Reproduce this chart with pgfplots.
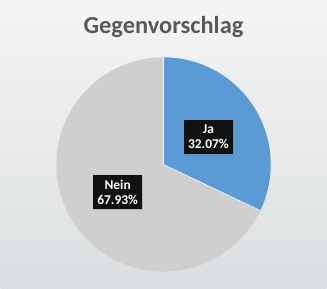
\documentclass[border=0pt]{standalone}
\usepackage{pgfplots}
\pgfplotsset{compat=1.18}
\usepackage{pgfplotstable}
\usepackage{fontspec}
\setmainfont{Carlito}
\usetikzlibrary{shadows}
\definecolor{jablue}{HTML}{5B9BD5}
\definecolor{neingray}{HTML}{CFCFCF}
\definecolor{titlegray}{HTML}{595959}
\definecolor{bgtop}{HTML}{F4F5F5}
\definecolor{bgbot}{HTML}{DCDFE1}
\definecolor{boxblack}{HTML}{111111}
\pgfplotstableread{
label value
Ja 32.07
Nein 67.93
}\piedata
\begin{document}
\begin{tikzpicture}
\shade[top color=bgtop, bottom color=bgbot] (0,0) rectangle (327pt,289pt);
\draw[white!90!gray, line width=1pt] (0,287pt) -- (327pt,287pt);
\begin{axis}[
  at={(0,0)}, anchor=south west,
  width=327pt, height=289pt, scale only axis,
  xmin=0, xmax=327, ymin=0, ymax=289,
  hide axis, clip=false,
]
\pgfplotstablegetelem{0}{value}\of\piedata \let\vja=\pgfplotsretval
\pgfplotstablegetelem{1}{value}\of\piedata \let\vnein=\pgfplotsretval
\pgfmathsetmacro{\aend}{90-3.6*\vja}
\pgfmathsetmacro{\nend}{\aend-3.6*\vnein}
% Nein slice
\fill[neingray] (axis cs:163.5,124) -- ++(\aend:107.5pt) arc[start angle=\aend, end angle=\nend, radius=107.5pt] -- cycle;
% Ja slice
\fill[jablue] (axis cs:163.5,124) -- ++(90:107.5pt) arc[start angle=90, end angle=\aend, radius=107.5pt] -- cycle;
\draw[white, line width=0.6pt] (axis cs:163.5,124) -- ++(90:107.5pt);
\draw[white, line width=0.6pt] (axis cs:163.5,124) -- ++(\aend:107.5pt);
% title
\node[font=\fontsize{24.5}{28}\selectfont\bfseries, text=titlegray] at (axis cs:163.5,262) {Gegenvorschlag};
% labels
\node[fill=boxblack, text=white, font=\fontsize{13.5}{15}\selectfont\bfseries, align=center,
  minimum width=49pt, minimum height=34pt, inner sep=1pt,
  drop shadow={shadow xshift=1pt, shadow yshift=-1pt, opacity=0.35}]
  at (axis cs:208.5,152) {Ja\\32.07\%};
\node[fill=boxblack, text=white, font=\fontsize{13.5}{15}\selectfont\bfseries, align=center,
  minimum width=49pt, minimum height=34pt, inner sep=1pt,
  drop shadow={shadow xshift=1pt, shadow yshift=-1pt, opacity=0.35}]
  at (axis cs:117.5,96) {Nein\\67.93\%};
\end{axis}
\useasboundingbox (0,0) rectangle (327pt,289pt);
\end{tikzpicture}
\end{document}
